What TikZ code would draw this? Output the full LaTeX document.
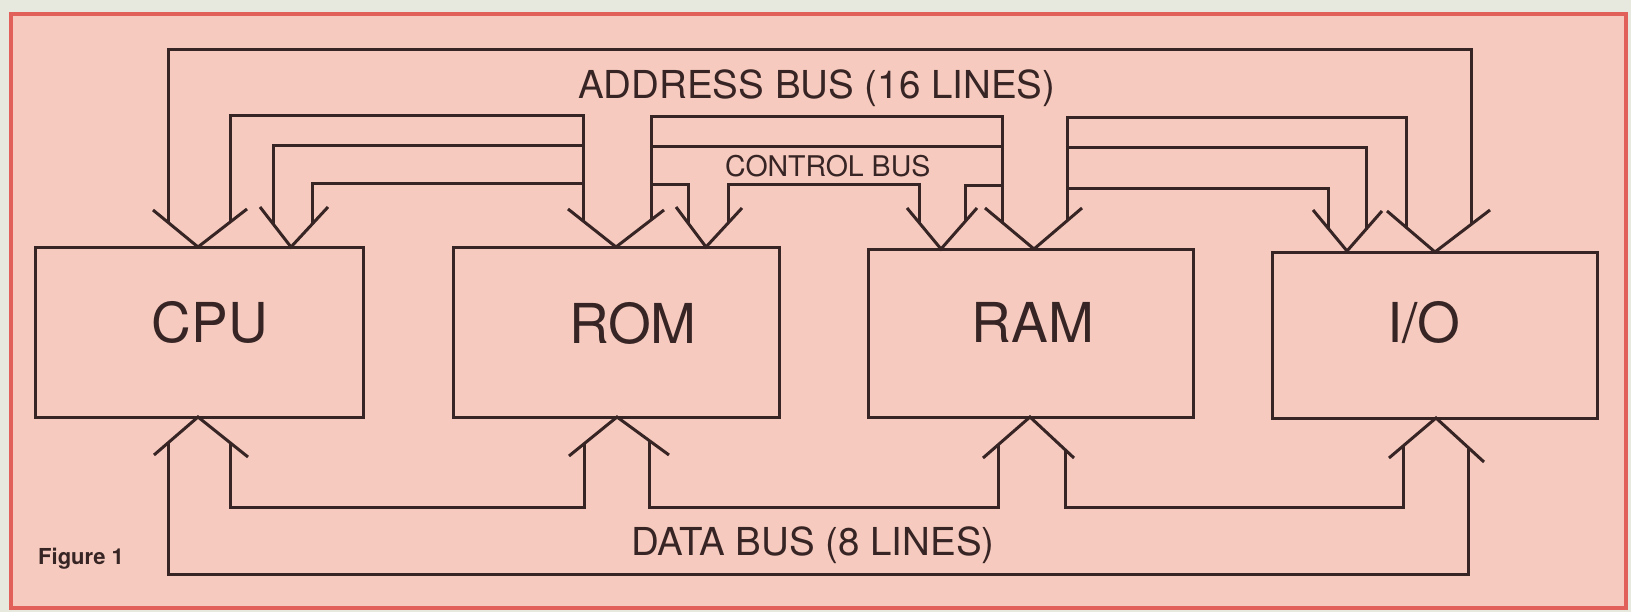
\documentclass[tikz,border=0pt]{standalone}
\usepackage{fontspec}
\setmainfont{TeX Gyre Heros}
\usetikzlibrary{calc}
\definecolor{paper}{RGB}{232,233,222}
\definecolor{pinkbg}{RGB}{246,202,190}
\definecolor{frame}{RGB}{226,96,90}
\definecolor{ink}{RGB}{55,36,36}
\tikzset{
  bus/.style={draw=ink, line width=3pt, line join=miter, line cap=butt},
  wing/.style={draw=ink, line width=3pt, line join=miter},
  unitbox/.style={draw=ink, line width=3pt, rectangle, inner sep=0pt, minimum width=326pt, minimum height=169pt},
  boxlabel/.style={text=ink, inner sep=0pt, anchor=base, font=\fontsize{55}{55}\selectfont},
  buslabel/.style={text=ink, inner sep=0pt, anchor=base west, font=\fontsize{38.5}{38.5}\selectfont},
  smalllabel/.style={text=ink, inner sep=0pt, anchor=base west, font=\fontsize{28.5}{28.5}\selectfont},
  figlabel/.style={text=ink, inner sep=0pt, anchor=base west, font=\bfseries\fontsize{22}{22}\selectfont}
}
\begin{document}
\begin{tikzpicture}[x=1pt,y=-1pt]
% background and frame
\fill[paper] (0,0) rectangle (1631,612);
\useasboundingbox (0,0) rectangle (1631,612);
\fill[pinkbg] (11,14) rectangle (1626,608);
\draw[frame, line width=4pt] (11,14) rectangle (1626,608);

% boxes
\node[unitbox, minimum width=328pt] (cpu) at (199,332.5) {};
\node[unitbox] (rom) at (616,332.5) {};
\node[unitbox, minimum width=325pt, minimum height=167pt] (ram) at (1030.5,333.5) {};
\node[unitbox, minimum width=325pt, minimum height=165pt] (io) at (1434.5,335.5) {};

\node[boxlabel] (cpulbl) at (210,343) {CPU};
\node[boxlabel] (romlbl) at (633,344) {ROM};
\node[boxlabel] (ramlbl) at (1033,343) {RAM};
\node[boxlabel] (iolbl) at (1424,343) {I/O};

% arrow tips (top)
\coordinate (cpuA) at (198,247);
\coordinate (cpuC) at (291,247);
\coordinate (romA) at (616,247);
\coordinate (romC) at (706,247);
\coordinate (ramC) at (941,249);
\coordinate (ramA) at (1034,249);
\coordinate (ioC) at (1347,251);
\coordinate (ioA) at (1435,252);
% arrow tips (bottom)
\coordinate (cpuD) at (198,417);
\coordinate (romD) at (617,417);
\coordinate (ramD) at (1030,417);
\coordinate (ioD) at (1436,418);

% open arrowheads
\draw[wing] (153,210) -- (cpuA) -- (247,209);
\draw[wing] (260,207) -- (cpuC) -- (328,207);
\draw[wing] (568,209) -- (romA) -- (664,210);
\draw[wing] (676,207) -- (romC) -- (742,208);
\draw[wing] (907,208) -- (ramC) -- (977,208);
\draw[wing] (985,208) -- (ramA) -- (1082,208);
\draw[wing] (1313,210) -- (ioC) -- (1382,211);
\draw[wing] (1387,211) -- (ioA) -- (1490,210);

\draw[wing] (154,455) -- (cpuD) -- (248,457);
\draw[wing] (569,456) -- (romD) -- (669,455);
\draw[wing] (983,458) -- (ramD) -- (1074,458);
\draw[wing] (1389,458) -- (ioD) -- (1484,462);

% address bus
\draw[bus] (168,222.3) -- (168,50) -- (1471,50) -- (1471,224.5);
\draw[bus] (230,222.2) -- (230,116) -- (583,116) -- (583,220.9);
\draw[bus] (651,220) -- (651,117) -- (1002,117) -- (1002,222.2);
\draw[bus] (1067,220.8) -- (1067,118) -- (1406,118) -- (1406,227.2);

% control bus
\draw[bus] (273,223.8) -- (273,146) -- (583,146);
\draw[bus] (651,147) -- (1002,147);
\draw[bus] (1067,148) -- (1366,148) -- (1366,229.7);
\draw[bus] (312,224.3) -- (312,184) -- (583,184);
\draw[bus] (651,185) -- (688,185) -- (688,223);
\draw[bus] (728,223.2) -- (728,185) -- (919,185) -- (919,222.5);
\draw[bus] (965,221.7) -- (965,186) -- (1002,186);
\draw[bus] (1067,189) -- (1328,189) -- (1328,228.5);

% data bus
\draw[bus] (168,442.9) -- (168,574) -- (1468,574) -- (1468,447);
\draw[bus] (230,442.6) -- (230,507) -- (584,507) -- (584,443.8);
\draw[bus] (649,440.4) -- (649,507) -- (998,507) -- (998,444.9);
\draw[bus] (1065,449.6) -- (1065,507) -- (1403,507) -- (1403,446);

% labels
\node[buslabel] (addrlbl) at (578,99) {ADDRESS BUS (16 LINES)};
\node[smalllabel] (ctrllbl) at (725,177) {CONTROL BUS};
\node[buslabel] (datalbl) at (631,555) {DATA BUS (8 LINES)};
\node[figlabel] (figlbl) at (38,564) {Figure 1};
\end{tikzpicture}
\end{document}
